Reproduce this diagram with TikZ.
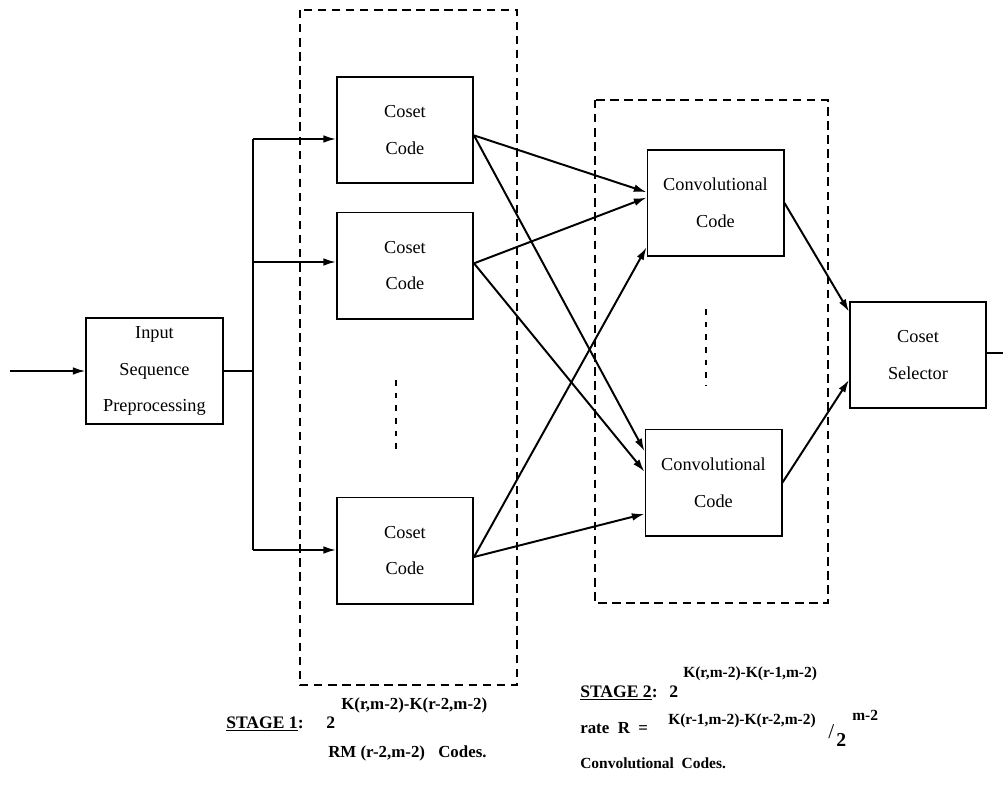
\documentclass[tikz,border=0pt]{standalone}
\usepackage{fontspec}
\setmainfont{Liberation Serif}
\usetikzlibrary{arrows.meta,calc}

\begin{document}
\begin{tikzpicture}[%
        x=0.025cm, y=-0.025cm,
        box/.style={draw, line width=1.4pt, align=center, inner sep=0pt,
            minimum width=3.4cm, minimum height=2.65cm,
            font=\fontsize{13}{26}\selectfont},
        stagebox/.style={draw, line width=1.5pt, dash pattern=on 6pt off 4pt},
        vdots/.style={line width=1.6pt, dash pattern=on 4pt off 5pt},
        wire/.style={line width=1.4pt},
        arr/.style={wire, -{Latex[length=9pt,width=5.5pt]}},
        lbl/.style={anchor=base west, inner sep=0pt,
            font=\fontsize{11}{12}\selectfont\bfseries},
        midlbl/.style={lbl, font=\fontsize{12}{14}\selectfont\bfseries},
        biglbl/.style={lbl, font=\fontsize{12.5}{14}\selectfont\bfseries}
    ]
        \useasboundingbox (0,0) rectangle (1003,788);

        % the two stages
        \draw [stagebox] (300,10) rectangle (517,685);
        \draw [stagebox] (595,100) rectangle (828,603);

        \node [box] (inp) at (154.5,371) {Input\\Sequence\\Preprocessing};
        \foreach \n/\y in {1/130,2/265.5,3/550.5}
            \node [box] (cs\n) at (405,\y) {Coset\\Code};
        \node [box] (cv1) at (715.5,203) {Convolutional\\Code};
        \node [box] (cv2) at (713.5,482.5) {Convolutional\\Code};
        \node [box] (sel) at (918,355) {Coset\\Selector};

        % more codes not drawn
        \coordinate (d1a) at (396,380);
        \coordinate (d1b) at (396,455);
        \coordinate (d2a) at (706,309);
        \coordinate (d2b) at (706,385);
        \draw [vdots] (d1a) -- (d1b);
        \draw [vdots] (d2a) -- (d2b);

        % input and fan out
        \coordinate (src) at (10,371);
        \coordinate (br) at (253,371);
        \coordinate (b1) at (253,139);
        \coordinate (b2) at (253,262);
        \coordinate (b3) at (253,550);
        \draw [arr] (src) -- (inp.west);
        \draw [wire] (inp.east) -- (br);
        \draw [wire] (b1) -- (b3);
        \foreach \n in {1,2,3}
            \draw [arr] (b\n) -- (b\n -| cs\n.west);

        % stage 1 to stage 2
        \foreach \a/\p/\b/\q in
            {cs1/0.55/cv1/0.40, cs2/0.48/cv1/0.45, cs3/0.56/cv1/0.91,
             cs1/0.55/cv2/0.21, cs2/0.48/cv2/0.40, cs3/0.56/cv2/0.79}
            \draw [arr] ($(\a.north east)!\p!(\a.south east)$)
                     -- ($(\b.north west)!\q!(\b.south west)$);

        % stage 2 to selector
        \draw [arr] (cv1.east) -- ($(sel.north west)!0.10!(sel.south west)$);
        \draw [arr] (cv2.east) -- ($(sel.north west)!0.73!(sel.south west)$);
        \coordinate (dst) at (1016,353);
        \draw [arr] (sel.east |- dst) -- (dst);

        % labels
        \node [biglbl] (s1) at (226,728) {\underline{STAGE 1}:};
        \node [biglbl] (s1b) at (326,728) {2};
        \node [midlbl] (s1e) at (341,709) {K(r,m-2)-K(r-2,m-2)};
        \node [midlbl] (s1c) at (328,757) {RM (r-2,m-2)};
        \node [midlbl] (s1d) at (438,757) {Codes.};

        \node [biglbl] (s2) at (580,697) {\underline{STAGE 2}:};
        \node [biglbl] (s2b) at (669,697) {2};
        \node [lbl] (s2e) at (683,677) {K(r,m-2)-K(r-1,m-2)};
        \node [midlbl] (s2r) at (580,733) {rate\ \ R\ \ =};
        \node [lbl] (s2k) at (668,724) {K(r-1,m-2)-K(r-2,m-2)};
        \node [biglbl, font=\fontsize{15}{16}\selectfont] (s2s) at (828,738) {/};
        \node [biglbl, font=\fontsize{14}{16}\selectfont\bfseries] (s2t) at (836,746) {2};
        \node [lbl] (s2m) at (852,720) {m-2};
        \node [lbl] (s2c) at (580,768) {Convolutional\ \ Codes.};
\end{tikzpicture}
\end{document}
